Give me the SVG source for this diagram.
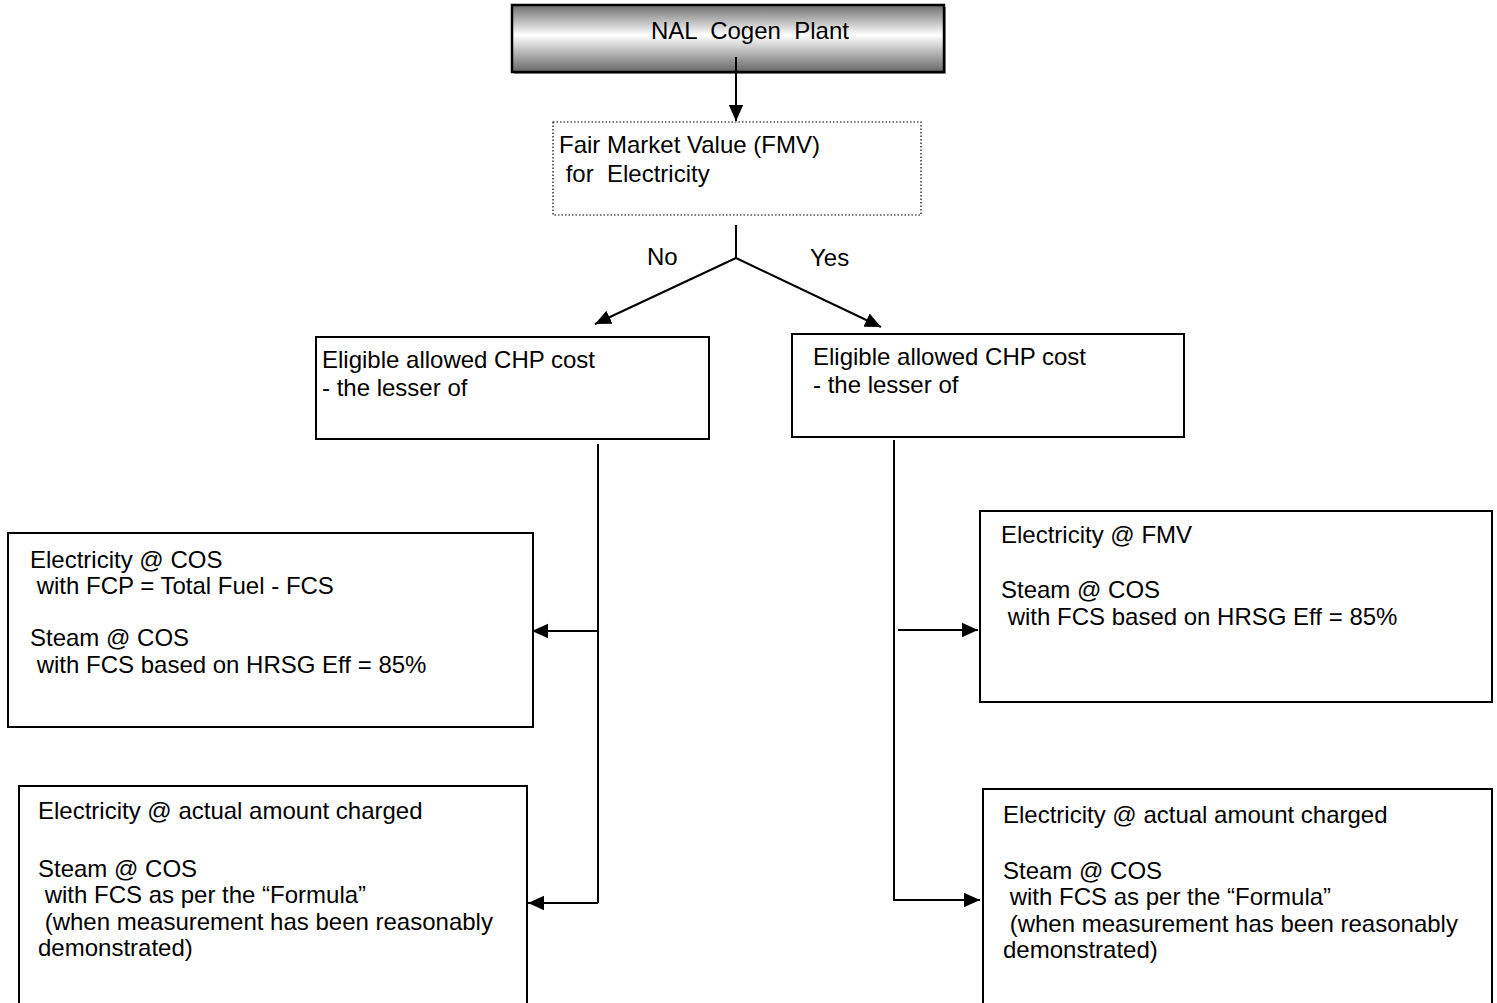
<svg xmlns="http://www.w3.org/2000/svg" width="1497" height="1003" viewBox="0 0 1497 1003">
<style>
text{font-family:"Liberation Sans",Arial,sans-serif;font-size:24px;fill:#000;}
.box{fill:#fff;stroke:#000;stroke-width:2;}
.conn{fill:none;stroke:#000;stroke-width:2;}
</style>
<defs>
<linearGradient id="g" x1="0" y1="0" x2="0" y2="1">
<stop offset="0" stop-color="#6e6e6e"/>
<stop offset="0.45" stop-color="#ffffff"/>
<stop offset="1" stop-color="#666666"/>
</linearGradient>
<marker id="ah" viewBox="0 0 10 10" refX="10" refY="5" markerWidth="8" markerHeight="8" markerUnits="strokeWidth" orient="auto">
<path d="M0,0.5 L10,5 L0,9.5 z" fill="#000"/>
</marker>
</defs>
<g id="node-plant">
<rect x="514" y="7" width="432" height="67" fill="#999"/>
<rect x="512" y="5" width="432" height="67" fill="url(#g)" stroke="#000" stroke-width="2.5"/>
<text x="651" y="39" xml:space="preserve">NAL  Cogen  Plant</text>
</g>
<g id="node-fmv">
<rect x="553" y="122" width="368" height="93" fill="#fff" stroke="#000" stroke-width="1.2" stroke-dasharray="1.5,2"/>
<text x="559" y="153">Fair Market Value (FMV)</text>
<text x="559" y="182" xml:space="preserve"> for  Electricity</text>
</g>
<g id="node-chp-no">
<rect class="box" x="316" y="337" width="393" height="102"/>
<text x="322" y="368">Eligible allowed CHP cost</text>
<text x="322" y="396">- the lesser of</text>
</g>
<g id="node-chp-yes">
<rect class="box" x="792" y="334" width="392" height="103"/>
<text x="813" y="365">Eligible allowed CHP cost</text>
<text x="813" y="393">- the lesser of</text>
</g>
<g id="node-cos-left">
<rect class="box" x="8" y="533" width="525" height="194"/>
<text x="30" y="568">Electricity @ COS</text>
<text x="30" y="594" xml:space="preserve"> with FCP = Total Fuel - FCS</text>
<text x="30" y="646">Steam @ COS</text>
<text x="30" y="673" xml:space="preserve"> with FCS based on HRSG Eff = 85%</text>
</g>
<g id="node-fmv-right">
<rect class="box" x="980" y="511" width="512" height="191"/>
<text x="1001" y="543">Electricity @ FMV</text>
<text x="1001" y="598">Steam @ COS</text>
<text x="1001" y="625" xml:space="preserve"> with FCS based on HRSG Eff = 85%</text>
</g>
<g id="node-actual-left">
<rect class="box" x="19" y="786" width="508" height="230"/>
<text x="38" y="819">Electricity @ actual amount charged</text>
<text x="38" y="877">Steam @ COS</text>
<text x="38" y="903" xml:space="preserve"> with FCS as per the “Formula”</text>
<text x="38" y="930" xml:space="preserve"> (when measurement has been reasonably</text>
<text x="38" y="956">demonstrated)</text>
</g>
<g id="node-actual-right">
<rect class="box" x="983" y="789" width="509" height="230"/>
<text x="1003" y="823">Electricity @ actual amount charged</text>
<text x="1003" y="879">Steam @ COS</text>
<text x="1003" y="905" xml:space="preserve"> with FCS as per the “Formula”</text>
<text x="1003" y="932" xml:space="preserve"> (when measurement has been reasonably</text>
<text x="1003" y="958">demonstrated)</text>
</g>
<g id="connectors">
<line class="conn" x1="736" y1="57" x2="736" y2="121" marker-end="url(#ah)"/>
<polyline class="conn" points="736,225 736,258"/>
<line class="conn" x1="736" y1="258" x2="595" y2="324" marker-end="url(#ah)"/>
<line class="conn" x1="736" y1="258" x2="881" y2="327" marker-end="url(#ah)"/>
<polyline class="conn" points="598,444 598,903"/>
<line class="conn" x1="598" y1="631" x2="532" y2="631" marker-end="url(#ah)"/>
<line class="conn" x1="598" y1="903" x2="528" y2="903" marker-end="url(#ah)"/>
<polyline class="conn" points="894,440 894,900 980,900" marker-end="url(#ah)"/>
<line class="conn" x1="898" y1="630" x2="978" y2="630" marker-end="url(#ah)"/>
<text x="647" y="265">No</text>
<text x="810" y="266">Yes</text>
</g>
</svg>
